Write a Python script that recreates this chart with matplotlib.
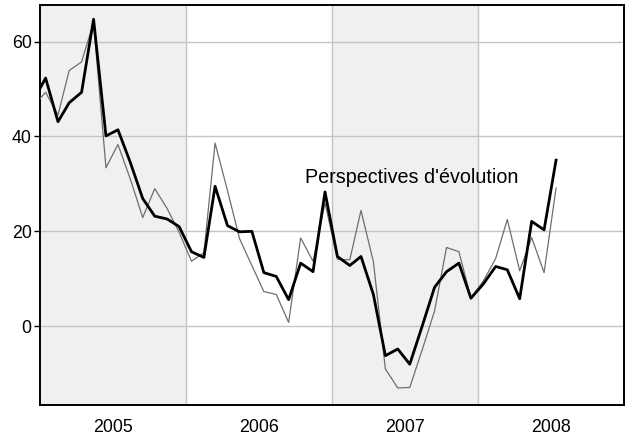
import pandas as pd
import matplotlib
matplotlib.use("Agg")
import matplotlib.pyplot as plt
import matplotlib.dates as mdates

plt.rcParams["font.family"] = ["Liberation Sans", "DejaVu Sans"]

# ── data: monthly values, Dec 2004 .. Jul 2008 ────────────────────────────
MONTHS = pd.date_range("2004-12-01", periods=44, freq="MS") + pd.Timedelta(days=14)

SERIES_BOLD = [
    47.5,
    52.3, 43.1, 47.1, 49.3, 64.7, 40.1, 41.4, 34.5, 26.9, 23.2, 22.6, 21.0,
    15.7, 14.5, 29.5, 21.2, 19.9, 20.0, 11.3, 10.5, 5.6, 13.3, 11.5, 28.3,
    14.7, 12.8, 14.7, 6.7, -6.2, -4.8, -8.0, 0.0, 8.2, 11.5, 13.3, 5.9,
    8.9, 12.6, 11.9, 5.8, 22.1, 20.3, 35.0,
]
SERIES_THIN = [
    46.3,
    49.3, 44.5, 53.9, 55.7, 64.0, 33.4, 38.3, 31.0, 22.9, 29.0, 24.8, 19.8,
    13.7, 15.5, 38.6, 28.6, 18.5, 12.8, 7.3, 6.7, 0.8, 18.6, 13.7, 26.0,
    14.1, 14.0, 24.4, 13.6, -9.0, -13.0, -12.9, -5.0, 3.2, 16.6, 15.7, 6.0,
    9.5, 14.3, 22.5, 11.7, 18.7, 11.3, 29.1,
]
YEARS = [2005, 2006, 2007, 2008]
SHADED_YEARS = [2005, 2007]
Y_TICKS = [0, 20, 40, 60]
LABEL = "Perspectives d'évolution"

# ── plot ──────────────────────────────────────────────────────────────────
fig = plt.figure(figsize=(6.33, 4.41), dpi=100)
ax = fig.add_axes([0.0632, 0.0816, 0.9226, 0.9071])

for yr in SHADED_YEARS:
    ax.axvspan(pd.Timestamp(f"{yr}-01-01"), pd.Timestamp(f"{yr + 1}-01-01"),
               color="#f0f0f0", zorder=0, lw=0)

ax.plot(MONTHS, SERIES_THIN, color="#6e6e6e", lw=0.9, zorder=3)
ax.plot(MONTHS, SERIES_BOLD, color="black", lw=2.0, zorder=4)

ax.set_xlim(pd.Timestamp("2005-01-01"), pd.Timestamp("2009-01-01"))
ax.set_ylim(-16.6, 67.7)

# year boundaries carry the grid, year labels sit mid-year
ax.set_xticks([pd.Timestamp(f"{y}-01-01") for y in YEARS[1:]])
ax.set_xticklabels([])
ax.set_xticks([pd.Timestamp(f"{y}-07-02") for y in YEARS], minor=True)
ax.set_xticklabels([str(y) for y in YEARS], minor=True)
ax.tick_params(axis="x", which="both", length=0, labelsize=12.8, pad=10)
ax.xaxis.set_major_formatter(mdates.DateFormatter(""))

ax.set_yticks(Y_TICKS)
ax.tick_params(axis="y", length=4, width=1, labelsize=12.8, pad=2)

ax.grid(True, which="major", color="#c4c4c4", lw=1.0, zorder=1)
ax.set_axisbelow(True)

for sp in ax.spines.values():
    sp.set_linewidth(1.4)
    sp.set_color("black")

ax.text(pd.Timestamp("2006-10-27"), 31.4, LABEL, fontsize=14.2,
        va="center", ha="left", zorder=5)

fig.savefig("out.png", dpi=100)
